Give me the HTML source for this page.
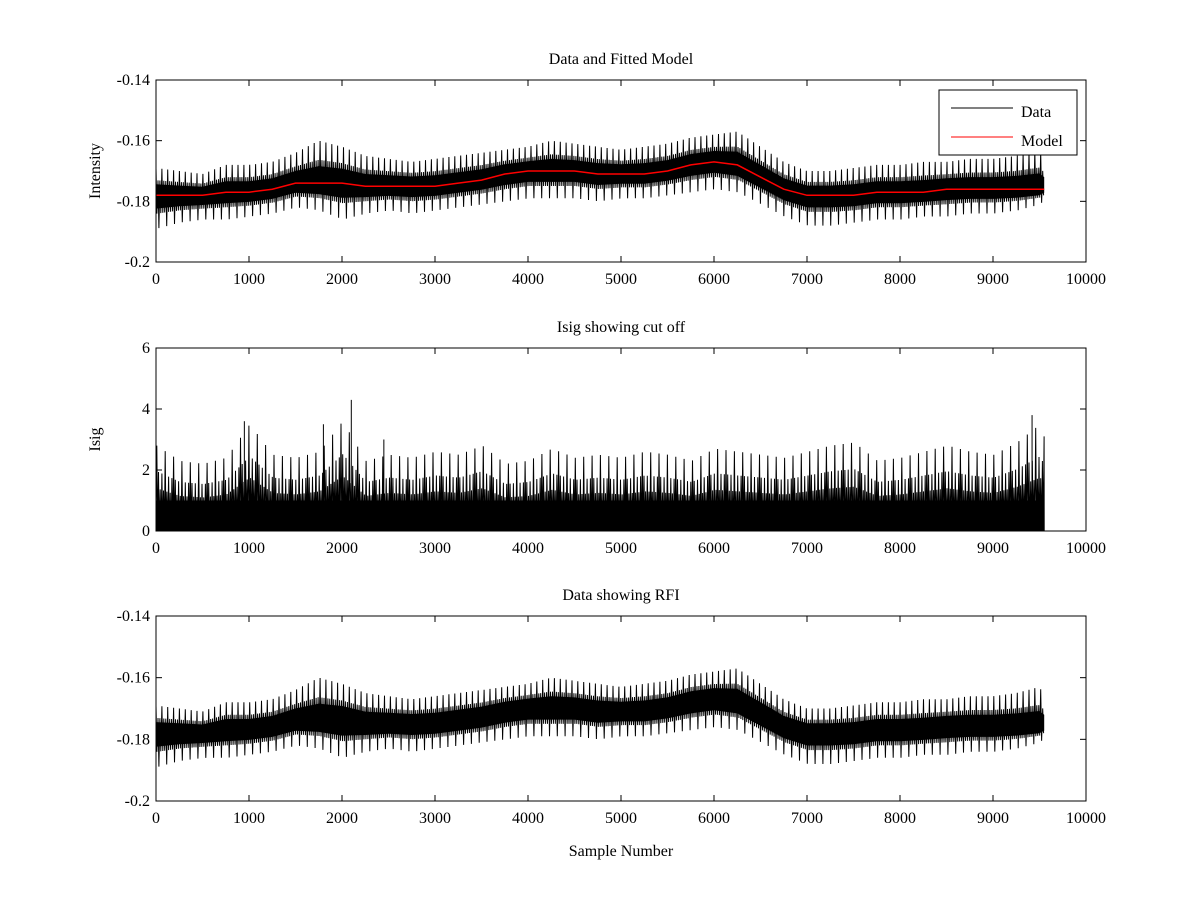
<!DOCTYPE html>
<html><head><meta charset="utf-8"><style>
body{margin:0;background:#fff}
svg text{font-family:"Liberation Serif",serif;font-size:16px;fill:#000}
</style></head><body>
<svg id="fig" width="1200" height="900" xmlns="http://www.w3.org/2000/svg">
<rect width="1200" height="900" fill="#fff"/>
</svg>
<script>
// Sample positions (every 250 samples)
const sampleX = [0,250,500,750,1000,1250,1500,1750,2000,2250,2500,2750,3000,3250,3500,3750,4000,4250,4500,4750,5000,5250,5500,5750,6000,6250,6500,6750,7000,7250,7500,7750,8000,8250,8500,8750,9000,9250,9500,9550];
const modelY = [-0.178,-0.178,-0.178,-0.177,-0.177,-0.176,-0.174,-0.174,-0.174,-0.175,-0.175,-0.175,-0.175,-0.174,-0.173,-0.171,-0.170,-0.170,-0.170,-0.171,-0.171,-0.171,-0.170,-0.168,-0.167,-0.168,-0.172,-0.176,-0.178,-0.178,-0.178,-0.177,-0.177,-0.177,-0.176,-0.176,-0.176,-0.176,-0.176,-0.176];
const dataUpper = [-0.169,-0.170,-0.171,-0.168,-0.168,-0.167,-0.164,-0.160,-0.162,-0.165,-0.166,-0.167,-0.166,-0.165,-0.164,-0.163,-0.162,-0.160,-0.161,-0.162,-0.163,-0.162,-0.161,-0.159,-0.158,-0.157,-0.162,-0.167,-0.170,-0.170,-0.169,-0.168,-0.168,-0.167,-0.167,-0.166,-0.166,-0.165,-0.163,-0.166];
const dataLower = [-0.189,-0.187,-0.186,-0.186,-0.185,-0.184,-0.182,-0.183,-0.186,-0.184,-0.183,-0.184,-0.183,-0.182,-0.181,-0.180,-0.179,-0.179,-0.179,-0.180,-0.179,-0.179,-0.178,-0.177,-0.176,-0.177,-0.181,-0.185,-0.188,-0.188,-0.187,-0.186,-0.186,-0.185,-0.185,-0.184,-0.184,-0.183,-0.181,-0.179];
const isigPeak = [2.8,2.3,2.2,2.4,3.5,2.5,2.4,2.6,3.6,2.3,2.5,2.4,2.6,2.5,2.8,2.2,2.3,2.7,2.4,2.5,2.4,2.6,2.5,2.3,2.7,2.6,2.5,2.4,2.6,2.8,2.9,2.3,2.4,2.6,2.8,2.6,2.5,2.9,3.5,3.0];
const spikeX = [950,1800,2100,2450,9420];
const spikeV = [3.6,3.5,4.3,3.0,3.8];
const xTicks = [0,1000,2000,3000,4000,5000,6000,7000,8000,9000,10000];
const yTicksData = [-0.14,-0.16,-0.18,-0.2];
const yTicksIsig = [0,2,4,6];

const NS="http://www.w3.org/2000/svg", svg=document.getElementById('fig');
function el(tag,attrs,parent){const e=document.createElementNS(NS,tag);for(const k in attrs)e.setAttribute(k,attrs[k]);(parent||svg).appendChild(e);return e;}
const L=156,R=1086;
const sx=v=>L+(v/10000)*(R-L);
function interp(arr,x){
  for(let i=0;i<sampleX.length-1;i++){
    if(x<=sampleX[i+1]){const f=(x-sampleX[i])/(sampleX[i+1]-sampleX[i]);return arr[i]+(arr[i+1]-arr[i])*f;}
  }
  return arr[arr.length-1];
}
const lastX=sampleX[sampleX.length-1];
function axes(name,top,bot,ymin,ymax,yt,title,ylabel){
  const g=el('g',{});
  
  
  const sy=v=>bot-(v-ymin)/(ymax-ymin)*(bot-top);
  return {g,sy,top,bot,finish(){
    const f=el('rect',{x:L,y:top,width:R-L,height:bot-top,fill:'none',stroke:'#000','stroke-width':1},g);
    
    xTicks.forEach(t=>{const x=sx(t);
      el('line',{x1:x,x2:x,y1:bot,y2:bot-6,stroke:'#000'},g);el('line',{x1:x,x2:x,y1:top,y2:top+6,stroke:'#000'},g);
      const tx=el('text',{x:x,y:bot+22,'text-anchor':'middle'},g);tx.textContent=t;
      });
    yt.forEach(t=>{const y=sy(t);
      el('line',{x1:L,x2:L+6,y1:y,y2:y,stroke:'#000'},g);el('line',{x1:R,x2:R-6,y1:y,y2:y,stroke:'#000'},g);
      const tx=el('text',{x:L-6,y:y+5,'text-anchor':'end'},g);tx.textContent=String(t);
      });
    const ti=el('text',{x:(L+R)/2,y:top-16,'text-anchor':'middle'},g);ti.textContent=title;
    
    if(ylabel){const yl=el('text',{x:0,y:0,'text-anchor':'middle',transform:`translate(100,${(top+bot)/2}) rotate(-90)`},g);yl.textContent=ylabel;
      }
  }};
}
function band(ax,name){
  let d='';let k=0;
  for(let x=0;x<lastX;x+=21,k++){
    const u=interp(dataUpper,x),lo=interp(dataLower,x),m=interp(modelY,x);
    const a=(k%3===0)?u:(m+(u-m)*0.55), b=(k%4===1)?lo:(m+(lo-m)*0.55);
    d+=(d?'L':'M')+sx(x).toFixed(1)+','+ax.sy(a).toFixed(1)+'L'+sx(Math.min(x+10,lastX)).toFixed(1)+','+ax.sy(b).toFixed(1);
  }
  const p=el('path',{d,fill:'none',stroke:'#000','stroke-width':1},ax.g);
  
  let c='';sampleX.forEach((x,i)=>{c+=(i?'L':'M')+sx(x).toFixed(1)+','+ax.sy(modelY[i]+(dataUpper[i]-modelY[i])*0.4).toFixed(1);});
  for(let i=sampleX.length-1;i>=0;i--)c+='L'+sx(sampleX[i]).toFixed(1)+','+ax.sy(modelY[i]+(dataLower[i]-modelY[i])*0.4).toFixed(1);
  const f=el('path',{d:c+'Z',fill:'#000'},ax.g);
  
}
// Panel 1
const a1=axes('data-model-axes',80,262,-0.2,-0.14,yTicksData,'Data and Fitted Model','Intensity');
band(a1,'data-line');
let md='';sampleX.forEach((x,i)=>{md+=(i?'L':'M')+sx(x).toFixed(1)+','+a1.sy(modelY[i]).toFixed(1);});
const ml=el('path',{d:md,fill:'none',stroke:'#f00','stroke-width':1.5},a1.g);

a1.finish();
const lg=el('g',{},a1.g);

el('rect',{x:939,y:90,width:138,height:65,fill:'#fff',stroke:'#000'},lg);
el('line',{x1:951,x2:1013,y1:108,y2:108,stroke:'#000'},lg);
el('line',{x1:951,x2:1013,y1:137,y2:137,stroke:'#f00'},lg);
const t1=el('text',{x:1021,y:117},lg);t1.textContent='Data';

const t2=el('text',{x:1021,y:146},lg);t2.textContent='Model';

// Panel 2
const a2=axes('isig-axes',348,531,0,6,yTicksIsig,'Isig showing cut off','Isig');
let id='';let kk=0;
for(let x=0;x<lastX;x+=18,kk++){
  const pk=interp(isigPeak,x);
  const h=(kk%5===0)?pk:(kk%2?pk*0.7:pk*0.5);
  id+=(id?'L':'M')+sx(x).toFixed(1)+','+a2.sy(0).toFixed(1)+'L'+sx(Math.min(x+9,lastX)).toFixed(1)+','+a2.sy(h).toFixed(1);
}
id+='L'+sx(lastX).toFixed(1)+','+a2.sy(0).toFixed(1);
const ip=el('path',{d:id,fill:'none',stroke:'#000','stroke-width':1},a2.g);

const ic=el('rect',{x:sx(0),y:a2.sy(1.0),width:sx(lastX)-sx(0),height:a2.sy(0)-a2.sy(1.0),fill:'#000'},a2.g);

spikeX.forEach((x,i)=>{const s=el('line',{x1:sx(x),x2:sx(x),y1:a2.sy(0),y2:a2.sy(spikeV[i]),stroke:'#000'},a2.g);
  });
a2.finish();
// Panel 3
const a3=axes('rfi-axes',616,801,-0.2,-0.14,yTicksData,'Data showing RFI','');
band(a3,'rfi-data-line');
a3.finish();
const xl=el('text',{x:(L+R)/2,y:856,'text-anchor':'middle'});xl.textContent='Sample Number';

</script>
</body></html>
